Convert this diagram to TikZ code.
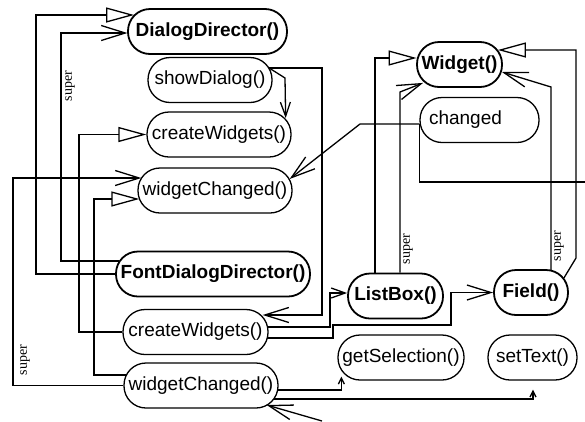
\documentclass[tikz,border=0pt]{standalone}
\usepackage{fontspec}
\setmainfont{Liberation Sans}
\newfontfamily\superfont{Liberation Serif}
\usetikzlibrary{arrows.meta,calc}
\begin{document}
\begin{tikzpicture}[x=1pt,y=-1pt,
  box/.style={draw, rounded corners=22pt, minimum height=45pt, inner sep=0pt, line width=1.3pt, font=\fontsize{19}{21}\selectfont},
  bbox/.style={box, line width=1.8pt, font=\fontsize{19}{21}\selectfont\bfseries},
  conn/.style={line width=1.3pt},
  vee/.style={conn, -{Straight Barb[length=24pt,width=15pt]}},
  smallvee/.style={conn, -{Straight Barb[length=14pt,width=10pt]}},
  tinyvee/.style={conn, -{Straight Barb[length=6pt,width=6pt]}},
  tri/.style={conn, -{Triangle[open,length=28pt,width=15pt,fill=white]}},
  lbl/.style={font=\superfont\fontsize{14}{16}\selectfont, rotate=90, inner sep=0pt}
]
\useasboundingbox (0,0) rectangle (585,421);

% nodes
\node[bbox, minimum width=159pt] (dd) at (207.5,31.5) {DialogDirector()};
\node[box, minimum width=124pt] (sd) at (210,80) {showDialog()};
\node[box, minimum width=144pt] (cw1) at (219,134.5) {createWidgets()};
\node[box, minimum width=154pt] (wc1) at (215,190.5) {widgetChanged()};
\node[bbox, minimum width=194pt] (fdd) at (213,274) {FontDialogDirector()};
\node[box, minimum width=145pt] (cw2) at (195.5,332) {createWidgets()};
\node[box, minimum width=154pt] (wc2) at (201,385.5) {widgetChanged()};
\node[bbox, minimum width=85pt] (w) at (459.5,64.5) {Widget()};
\node[box, minimum width=119pt, text width=101pt, align=left] (ch) at (479.5,120) {changed};
\node[bbox, minimum width=95pt] (lb) at (395.5,296) {ListBox()};
\node[bbox, minimum width=74pt] (f) at (531,292.5) {Field()};
\node[box, minimum width=126pt] (gs) at (401,357.5) {getSelection()};
\node[box, minimum width=89pt] (st) at (532.5,357.5) {setText()};

% free ends
\coordinate (R) at (585,182);
\coordinate (B) at (322,421);
\coordinate (sdo) at ([shift={(-3.5,-12)}]sd.east);
\coordinate (cho) at ([shift={(0,4)}]ch.west);

% left side
\draw[vee] (wc2.west) -| (13,178) -- ([shift={(4,-12.5)}]wc1.west);
\draw[tri] (fdd.west) -| (36,15) -- ([shift={(7,-16.5)}]dd.west);
\draw[vee] ([shift={(4,-13)}]fdd.west) -| (61,33) -- ([shift={(0.3,1.5)}]dd.west);
\draw[tri] (cw2.west) -| (79,134.5) -- (cw1.west);
\draw[tri] ([shift={(3,-10.5)}]wc2.west) -| (94,199) -- ([shift={(2,8.5)}]wc1.west);

% showDialog
\draw[smallvee] (sdo) -- (285,78) -- ([shift={(-6,-16.5)}]cw1.east);
\draw[vee] (sdo) -| (322,315) -- ([shift={(-6,-17)}]cw2.east);

% changed
\draw[vee] (cho) -- (360,124) -- ([shift={(-3,-11.5)}]wc1.east);
\draw[conn] (cho) |- (R);

% to Widget
\draw[tri] ([shift={(-20.5,0)}]lb.north) |- ([shift={(0.5,-6.5)}]w.west);
\draw[vee] ([shift={(4.5,0)}]lb.north) -- (400,92) -- ([shift={(7,-5)}]w.south west);
\draw[vee] ([shift={(20,0.7)}]f.north) -- (551,87) -- ([shift={(-1,7.5)}]w.east);
\draw[tri] ([shift={(-5,-14.5)}]f.east) -- (576,258) |- ([shift={(-5,-14.5)}]w.east);

% lower createWidgets / widgetChanged
\draw[smallvee] ([shift={(-0.5,-5)}]cw2.east) -| (330,293) -- ([shift={(0,-3)}]lb.west);
\draw[vee] ([shift={(-2,6)}]cw2.east) -| (333,325) -| (451,292.5) -- (f.west);
\draw[tinyvee] ([shift={(-0.5,4.5)}]wc2.east) -| ([shift={(4,-4)}]gs.south west);
\draw[tinyvee] ([shift={(-4.5,13.5)}]wc2.east) -| ([shift={(0.5,9)}]st.south);
\draw[vee] (B) -- ([shift={(-12,19.5)}]wc2.east);

% labels
\node[lbl] (s1) at (25,360) {super};
\node[lbl] (s2) at (70,86) {super};
\node[lbl] (s3) at (408,249) {super};
\node[lbl] (s4) at (559,246) {super};
\end{tikzpicture}
\end{document}
